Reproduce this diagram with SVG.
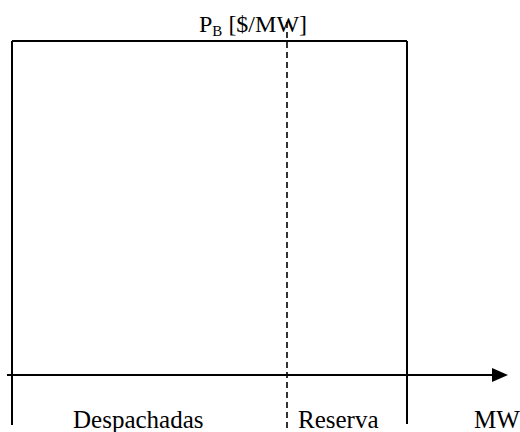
<svg xmlns="http://www.w3.org/2000/svg" width="520" height="432" viewBox="0 0 520 432">
<style>
.ln{stroke:#000;stroke-width:2;fill:none}
.dash{stroke:#000;stroke-width:1.6;stroke-dasharray:6 4;fill:none}
.t{font-family:"Liberation Serif","Times New Roman",serif;font-size:24px;fill:#000}
.b{font-size:25px}
</style>
<defs>
<marker id="arr" markerWidth="16" markerHeight="16" refX="0" refY="8" orient="auto" markerUnits="userSpaceOnUse">
<path d="M0,1 L16,8 L0,15 Z" fill="#000"/>
</marker>
</defs>
<rect width="520" height="432" fill="#fff"/>
<g id="connectors">
<line class="ln" x1="12" y1="41" x2="407" y2="41"/>
<line class="ln" x1="12" y1="41" x2="12" y2="425"/>
<line class="ln" x1="407" y1="41" x2="407" y2="424"/>
<line class="ln" x1="7" y1="375" x2="492" y2="375" marker-end="url(#arr)"/>
<line class="dash" x1="287" y1="22" x2="287" y2="432"/>
</g>
<g id="label-pb">
<text class="t" x="199" y="32">P<tspan font-size="15" dy="4">B</tspan><tspan dy="-4"> [$/MW]</tspan></text>
</g>
<g id="label-despachadas"><text class="t b" x="73" y="428">Despachadas</text></g>
<g id="label-reserva"><text class="t b" x="298" y="428">Reserva</text></g>
<g id="label-mw"><text class="t b" x="474" y="428">MW</text></g>
</svg>
